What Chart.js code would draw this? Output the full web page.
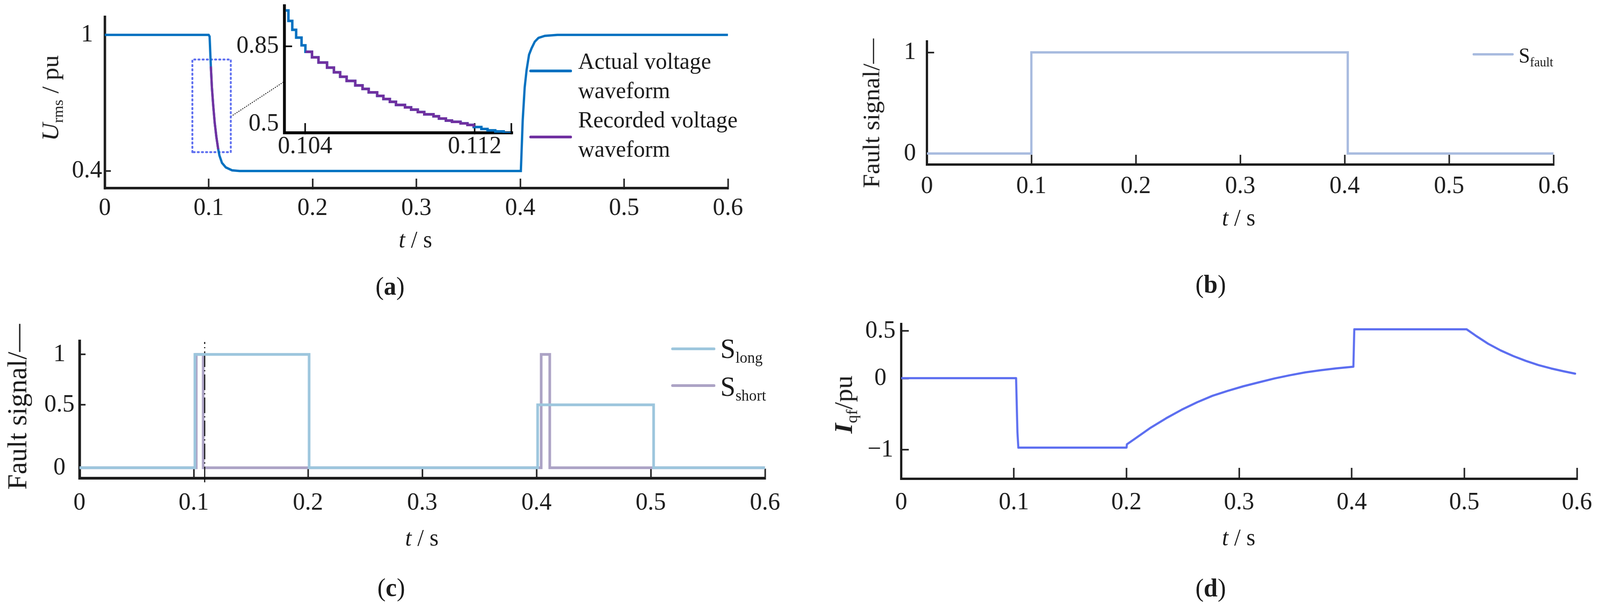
<!DOCTYPE html>
<html><head><meta charset="utf-8">
<script src="https://cdn.jsdelivr.net/npm/chart.js@4.4.1/dist/chart.umd.min.js"></script>
<style>
html,body{margin:0;padding:0;background:#fff;overflow:hidden;}
#page{position:relative;width:4229px;height:1553px;overflow:hidden;background:#fff;font-family:'Liberation Serif','Times New Roman',serif;color:#1c1c1c;transform-origin:0 0;}
canvas{position:absolute;}
.t{position:absolute;white-space:nowrap;line-height:1;transform:translate(-50%,-50%);}
.r{transform:translate(-50%,-50%) rotate(-90deg);}
.lg{position:absolute;white-space:nowrap;}
.sw{position:absolute;border-radius:4px;}
sub{font-size:0.62em;vertical-align:baseline;position:relative;top:0.3em;}
</style></head>
<body><div id="page">
<canvas id="cA"></canvas>
<canvas id="cInset"></canvas>
<canvas id="cB"></canvas>
<canvas id="cC"></canvas>
<canvas id="cD"></canvas>

<div class="t r" style="left:133px;top:251px;font-size:64px;"><i>U</i><sub>rms</sub> / pu</div>
<div class="t" style="left:1098px;top:612px;font-size:61px;"><i>t</i> / s</div>
<div class="t" style="left:1031px;top:732px;font-size:66px;">(<b>a</b>)</div>
<div class="sw" style="left:1399px;top:178px;width:113px;height:7px;background:#0070c0;"></div>
<div class="sw" style="left:1399px;top:347px;width:113px;height:7px;background:#7030a0;"></div>
<div class="lg" style="left:1528px;top:119px;font-size:60px;line-height:75px;">Actual voltage<br>waveform</div>
<div class="lg" style="left:1528px;top:269px;font-size:60px;line-height:75px;">Recorded voltage<br>waveform</div>

<div class="t r" style="left:2303px;top:290px;font-size:64px;">Fault signal/—</div>
<div class="t" style="left:3274px;top:556px;font-size:61px;"><i>t</i> / s</div>
<div class="t" style="left:3200px;top:727px;font-size:66px;">(<b>b</b>)</div>
<div class="sw" style="left:3892px;top:136px;width:109px;height:6px;background:#a8bbdf;"></div>
<div class="lg" style="left:4014px;top:115px;font-size:54px;line-height:54px;">S<sub>fault</sub></div>

<div class="t r" style="left:46px;top:1041px;font-size:71px;">Fault signal/—</div>
<div class="t" style="left:1115px;top:1375px;font-size:61px;"><i>t</i> / s</div>
<div class="t" style="left:1034px;top:1503px;font-size:66px;">(<b>c</b>)</div>
<div class="sw" style="left:1774px;top:889px;width:117px;height:7px;background:#9dc6dd;"></div>
<div class="sw" style="left:1774px;top:983px;width:117px;height:7px;background:#aca3c5;"></div>
<div class="lg" style="left:1904px;top:856px;font-size:72px;line-height:72px;">S<sub style="font-size:0.56em">long</sub></div>
<div class="lg" style="left:1904px;top:953px;font-size:72px;line-height:72px;">S<sub style="font-size:0.56em">short</sub></div>

<div class="t r" style="left:2229px;top:1035px;font-size:68px;"><b><i>I</i></b><sub>qf</sub>/pu</div>
<div class="t" style="left:3274px;top:1374px;font-size:61px;"><i>t</i> / s</div>
<div class="t" style="left:3200px;top:1504px;font-size:66px;">(<b>d</b>)</div>
</div>
<script>
// ---------- shared axis ticks ----------
const xTicks = [0, 0.1, 0.2, 0.3, 0.4, 0.5, 0.6];
const xTickLabels = ['0', '0.1', '0.2', '0.3', '0.4', '0.5', '0.6'];

// ---------- (a) voltage ----------
const aYTicks = [0.4, 1];
const aYTickLabels = ['0.4', '1'];
const actualT = [0, 0.1, 0.1009, 0.1021, 0.1031, 0.1043, 0.1058, 0.1074, 0.1092, 0.1104, 0.1128, 0.1165, 0.1225, 0.1298, 0.137,
                 0.4, 0.4006, 0.4024, 0.4043, 0.4061, 0.4085, 0.4109, 0.414, 0.4176, 0.4237, 0.4358, 0.6];
const actualU = [1, 1, 0.993, 0.861, 0.769, 0.694, 0.614, 0.551, 0.496, 0.468, 0.436, 0.416, 0.403, 0.4, 0.4,
                 0.4, 0.4, 0.6255, 0.769, 0.844, 0.913, 0.941, 0.97, 0.987, 0.996, 1, 1];
const recordedT = [0.1021, 0.1031, 0.1043, 0.1058, 0.1074, 0.1092];
const recordedU = [0.861, 0.769, 0.694, 0.614, 0.551, 0.496];
const zoomBoxT = [0.0843, 0.1213];
const zoomBoxU = [0.4832, 0.8915];
const connectorT = [0.1213, 0.1730];
const connectorU = [0.640, 0.795];

// ---------- (a) inset (sampled staircase) ----------
const insetXTicks = [0.104, 0.112, 0.11373];
const insetXTickLabels = ['0.104', '0.112', ''];
const insetYTicks = [0.5, 0.85];
const insetYTickLabels = ['0.5', '0.85'];
const insetT = [0.10309, 0.103214, 0.103396, 0.103578, 0.103833, 0.104015, 0.104328, 0.104633, 0.105034, 0.105361,
                0.105653, 0.105958, 0.106366, 0.106708, 0.106999, 0.1074, 0.107691, 0.107997, 0.108288, 0.10871,
                0.109001, 0.109315, 0.10962, 0.110057, 0.110312, 0.11064, 0.110931, 0.111331, 0.111659, 0.11195,
                0.112314, 0.112605, 0.112969, 0.113369, 0.113697];
const insetU = [1.011, 0.964, 0.924, 0.889, 0.854, 0.825, 0.8, 0.777, 0.754, 0.733,
                0.713, 0.694, 0.674, 0.658, 0.643, 0.627, 0.613, 0.6, 0.586, 0.575,
                0.565, 0.554, 0.544, 0.535, 0.525, 0.516, 0.51, 0.503, 0.496, 0.487,
                0.478, 0.472, 0.467, 0.46, 0.46];
const insetRecordedFirst = 5, insetRecordedLast = 29;

// ---------- (b) fault signal ----------
const bYTicks = [0, 1];
const bYTickLabels = ['0', '1'];
const faultT = [0, 0.1, 0.1, 0.403, 0.403, 0.6];
const faultS = [0, 0, 1, 1, 0, 0];

// ---------- (c) long / short signals ----------
const cYTicks = [0, 0.5, 1];
const cYTickLabels = ['0', '0.5', '1'];
const longT = [0, 0.101, 0.101, 0.201, 0.201, 0.401, 0.401, 0.5025, 0.5025, 0.6];
const longS = [0, 0, 1, 1, 0, 0, 0.5, 0.5, 0, 0];
const shortT = [0, 0.1022, 0.1022, 0.1083, 0.1083, 0.4041, 0.4041, 0.4116, 0.4116, 0.6];
const shortS = [0, 0, 1, 1, 0, 0, 1, 1, 0, 0];
const markerT = [0.1096, 0.1096];
const markerS = [-0.116, 1.123];

// ---------- (d) Iqf ----------
const dYTicks = [-1, 0, 0.5];
const dYTickLabels = ['\u22121', '0', '0.5'];
const iqfT = [0, 0.102, 0.1032, 0.104, 0.2001, 0.2004, 0.2079, 0.2216, 0.2353, 0.249, 0.2627, 0.2764, 0.2901, 0.3038,
              0.3175, 0.3313, 0.345, 0.3587, 0.3724, 0.3861, 0.4015, 0.4023, 0.5021, 0.5099, 0.5211, 0.5323, 0.5435,
              0.5547, 0.5659, 0.5771, 0.5883, 0.5984];
const iqfV = [0.005, 0.005, -0.752, -0.97, -0.97, -0.923, -0.841, -0.689, -0.557, -0.438, -0.333, -0.242, -0.172, -0.108,
              -0.053, 0.001, 0.035, 0.065, 0.088, 0.107, 0.125, 0.518, 0.518, 0.4535, 0.367, 0.296, 0.237,
              0.186, 0.142, 0.1065, 0.0765, 0.052];

// ---------- fit the 4229x1553 page into the actual viewport ----------
(function fitPage() {
  const w = document.documentElement.clientWidth || window.innerWidth || 4229;
  const h = document.documentElement.clientHeight || window.innerHeight || 1553;
  const sx = w / 4229, sy = h / 1553;
  if (Math.abs(sx - 1) > 0.002 || Math.abs(sy - 1) > 0.002) {
    document.getElementById('page').style.transform = 'scale(' + sx + ',' + sy + ')';
  }
})();

// ---------- piecewise-linear value axis (the printed axes are not uniform) ----------
const LinearScale = Chart.registry.getScale('linear');
function registerWarpScale(id, breaks) {
  class WarpScale extends LinearScale {
    warp(v) {
      let i = 0;
      while (i < breaks.length - 2 && v > breaks[i + 1][0]) i++;
      const a = breaks[i], b = breaks[i + 1];
      return a[1] + (v - a[0]) * (b[1] - a[1]) / (b[0] - a[0]);
    }
    determineDataLimits() {
      super.determineDataLimits();
      this.min = this.warp(this.min);
      this.max = this.warp(this.max);
    }
    getPixelForValue(v) {
      return (v === null || v === undefined) ? NaN : super.getPixelForValue(this.warp(v));
    }
  }
  WarpScale.id = id;
  WarpScale.defaults = LinearScale.defaults;
  Chart.register(WarpScale);
}
registerWarpScale('warpC', [[-1, -1], [0, 0], [0.5, 0.5], [1, 0.9006], [2, 1.7019]]);
registerWarpScale('warpD', [[-2, -2], [0, 0], [1, 1.3355]]);

// ---------- helpers ----------
const ink = '#1c1c1c';
const tickFont = {family: "'Liberation Serif', 'Times New Roman', serif", size: 64};
const pts = (T, V) => T.map((t, i) => ({x: t, y: V[i]}));

function axis(o) {
  const horizontal = o.pos === 'bottom';
  return {
    type: o.type || 'linear', position: o.pos, min: o.min, max: o.max, bounds: 'data',
    border: {display: true, color: o.color || ink, width: o.bw || 6},
    grid: {display: true, drawOnChartArea: false, drawTicks: true, tickLength: -o.tl, tickWidth: 4,
           tickColor: o.tickColor || (o.color || ink)},
    ticks: {autoSkip: false, maxRotation: 0, minRotation: 0, padding: o.pad, font: tickFont, color: ink,
            crossAlign: o.cross || 'near', callback: (v, i) => o.labels[i]},
    afterBuildTicks: s => { s.ticks = o.ticks.map(v => ({value: v})); },
    afterFit: s => {
      if (horizontal) s.height = o.size; else s.width = o.size;
      s.paddingLeft = 0; s.paddingRight = 0; s.paddingTop = 0; s.paddingBottom = 0;
    }
  };
}

function makeChart(id, box, pad, scales, datasets) {
  const cv = document.getElementById(id);
  cv.width = box.w; cv.height = box.h;
  Object.assign(cv.style, {left: box.l + 'px', top: box.t + 'px', width: box.w + 'px', height: box.h + 'px'});
  return new Chart(cv, {
    type: 'line',
    data: {datasets},
    options: {
      responsive: false, animation: false, devicePixelRatio: 1, events: [],
      layout: {padding: {top: pad.top, right: pad.right, bottom: 0, left: 0}},
      plugins: {legend: {display: false}, tooltip: {enabled: false}},
      elements: {point: {radius: 0}, line: {tension: 0, borderJoinStyle: 'miter'}},
      scales
    }
  });
}

// ---------- (a) main ----------
makeChart('cA', {l: 0, t: 0, w: 2000, h: 600}, {top: 43, right: 76}, {
  x: axis({pos: 'bottom', min: 0, max: 0.6, ticks: xTicks, labels: xTickLabels, tl: 24, pad: 38, size: 119, bw: 6.5}),
  y: axis({pos: 'left', min: 0.3252, max: 1.0798, ticks: aYTicks, labels: aYTickLabels, tl: 16, pad: 23, size: 277, bw: 6.5, cross: 'center'})
}, [
  {data: pts(recordedT, recordedU), borderColor: '#7030a0', borderWidth: 6},
  {data: pts(actualT, actualU), borderColor: '#0070c0', borderWidth: 6},
  {data: pts([zoomBoxT[0], zoomBoxT[0], zoomBoxT[1], zoomBoxT[1], zoomBoxT[0]],
             [zoomBoxU[0], zoomBoxU[1], zoomBoxU[1], zoomBoxU[0], zoomBoxU[0]]),
   borderColor: '#5e6ff0', borderWidth: 5, borderDash: [3, 8], borderCapStyle: 'round'},
  {data: pts(connectorT, connectorU), borderColor: '#000', borderWidth: 2, borderDash: [3, 3]}
]);

// ---------- (a) inset ----------
makeChart('cInset', {l: 600, t: 0, w: 800, h: 420}, {top: 15, right: 45}, {
  x: axis({pos: 'bottom', min: 0.10303, max: 0.11379, ticks: insetXTicks, labels: insetXTickLabels, tl: 25, pad: 22, size: 80, bw: 7.5, color: '#000'}),
  y: axis({pos: 'left', min: 0.4605, max: 1.0316, ticks: insetYTicks, labels: insetYTickLabels, tl: 20, pad: 35, size: 152, bw: 7.5, color: '#000',
           tickColor: c => (c.tick && c.tick.value === 0.5) ? 'rgba(0,0,0,0)' : '#000'})
}, [
  {data: pts(insetT.slice(insetRecordedFirst, insetRecordedLast + 1), insetU.slice(insetRecordedFirst, insetRecordedLast + 1)),
   borderColor: '#7030a0', borderWidth: 6.5, stepped: true},
  {data: pts(insetT, insetU), borderColor: '#0070c0', borderWidth: 6.5, stepped: true}
]);

// ---------- (b) ----------
makeChart('cB', {l: 2150, t: 0, w: 2040, h: 560}, {top: 106, right: 84}, {
  x: axis({pos: 'bottom', min: 0, max: 0.6, ticks: xTicks, labels: xTickLabels, tl: 25, pad: 43, size: 139}),
  y: axis({pos: 'left', min: -0.1094, max: 1.1087, ticks: bYTicks, labels: bYTickLabels, tl: 19, pad: 48, size: 300, cross: 'center'})
}, [
  {data: pts(faultT, faultS), borderColor: '#a8bbdf', borderWidth: 6}
]);

// ---------- (c) ----------
makeChart('cC', {l: 60, t: 780, w: 2030, h: 560}, {top: 92, right: 68}, {
  x: axis({pos: 'bottom', min: 0, max: 0.6, ticks: xTicks, labels: xTickLabels, tl: 24, pad: 50, size: 117, bw: 7}),
  y: axis({type: 'warpC', pos: 'left', min: -0.0817, max: 1.1345, ticks: cYTicks, labels: cYTickLabels, tl: 16, pad: 29, size: 150, bw: 7, cross: 'center'})
}, [
  {data: pts(longT, longS), borderColor: '#9dc6dd', borderWidth: 7},
  {data: pts(markerT, markerS), borderColor: '#111', borderWidth: 3, borderDash: [40, 8, 3, 8], clip: false},
  {data: pts(shortT, shortS), borderColor: '#aca3c5', borderWidth: 7}
]);

// ---------- (d) ----------
makeChart('cD', {l: 2230, t: 780, w: 1990, h: 560}, {top: 49, right: 52}, {
  x: axis({pos: 'bottom', min: 0, max: 0.6, ticks: xTicks, labels: xTickLabels, tl: 28, pad: 51, size: 115}),
  y: axis({type: 'warpD', pos: 'left', min: -1.408, max: 0.574, ticks: dYTicks, labels: dYTickLabels, tl: 20, pad: 35, size: 152, cross: 'center'})
}, [
  {data: pts(iqfT, iqfV), borderColor: '#5c6ef0', borderWidth: 5.5, borderCapStyle: 'round', borderJoinStyle: 'round'}
]);
</script>
</body></html>
